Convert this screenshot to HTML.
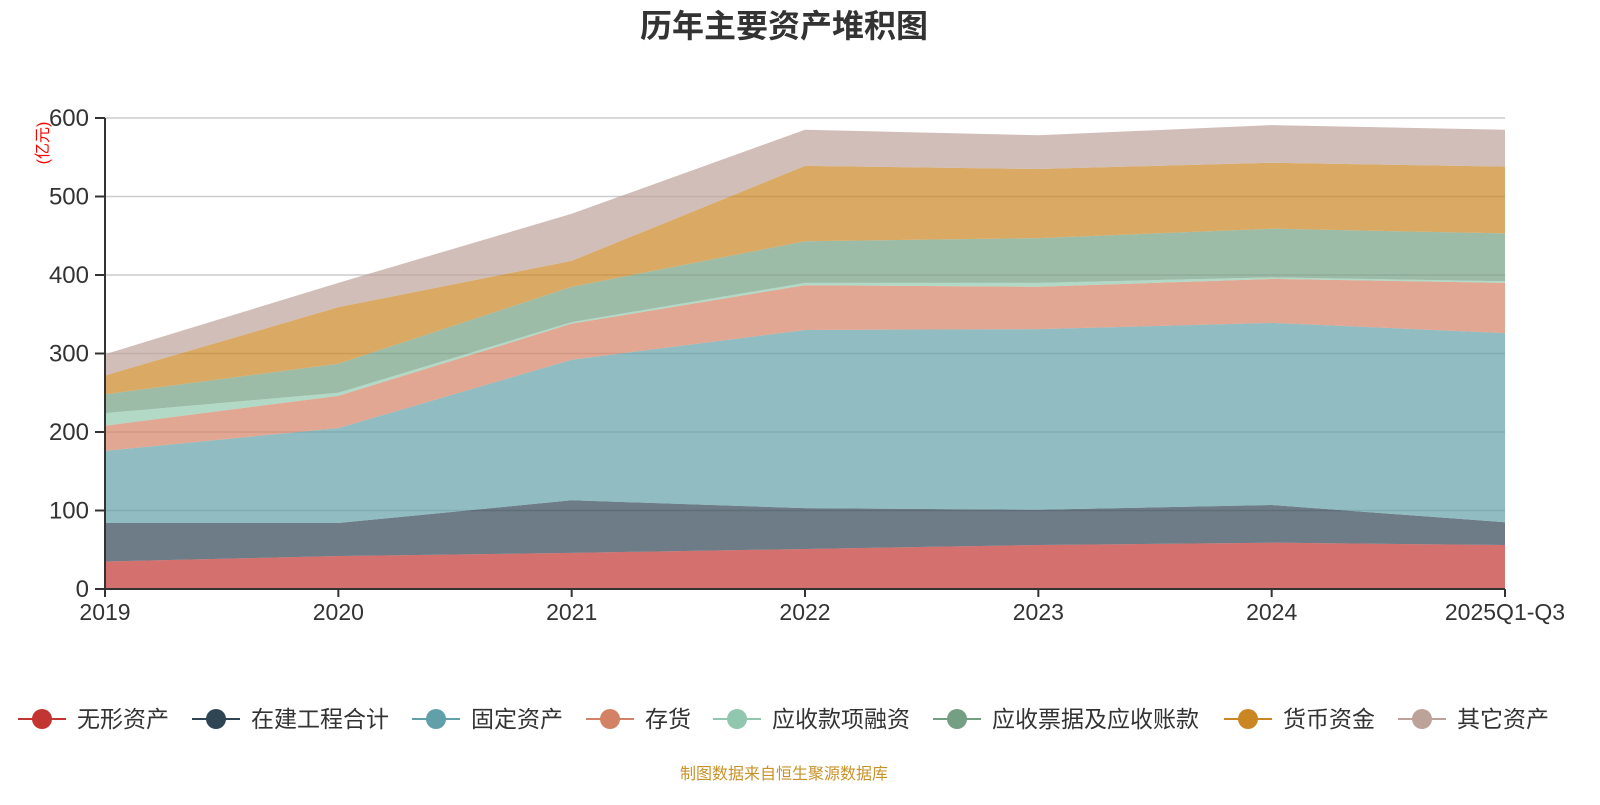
<!DOCTYPE html>
<html><head><meta charset="utf-8">
<style>
body{margin:0;background:#fff;width:1600px;height:800px;overflow:hidden;font-family:"Liberation Sans","Noto Sans CJK SC",sans-serif;}
</style></head>
<body>
<svg id="chart" width="1600" height="800" xmlns="http://www.w3.org/2000/svg">
<text x="784" y="37" text-anchor="middle" font-size="32" font-weight="bold" fill="#333" font-family="Liberation Sans, Noto Sans CJK SC, sans-serif">历年主要资产堆积图</text>
<text transform="translate(48,143) rotate(-90)" text-anchor="middle" font-size="16" fill="#ff0000" font-family="Liberation Sans, Noto Sans CJK SC, sans-serif">(亿元)</text>
<g id="grid"></g><g id="areas"></g><g id="axes"></g><g id="legend"></g>
<text x="784" y="779" text-anchor="middle" font-size="16" fill="#c8922a" font-family="Liberation Sans, Noto Sans CJK SC, sans-serif">制图数据来自恒生聚源数据库</text>
</svg>
<script>
const categories=["2019","2020","2021","2022","2023","2024","2025Q1-Q3"];
const seriesNames=["无形资产","在建工程合计","固定资产","存货","应收款项融资","应收票据及应收账款","货币资金","其它资产"];
const intangible=[35,42,46,51,56,59,56];
const construction=[49,42,67,52,45,48,29];
const fixedAssets=[92,121,179,227,230,232,241];
const inventory=[32,41,46,57,54,56,64];
const receivableFinancing=[16,4,2,3,5,2,2];
const receivables=[24,37,45,53,57,62,61];
const cash=[24,72,33,96,88,84,85];
const otherAssets=[27,31,60,46,43,48,47];
const yTicks=[0,100,200,300,400,500,600];
const seriesData=[intangible,construction,fixedAssets,inventory,receivableFinancing,receivables,cash,otherAssets];
const colors=["#c23531","#2f4554","#61a0a8","#d48265","#91c7ae","#749f83","#ca8622","#bda29a"];
const NS="http://www.w3.org/2000/svg";
const x0=105,x1=1505,yb=589,yt=118;
const xS=i=>x0+i*(x1-x0)/(categories.length-1);
const yS=v=>yb-v*(yb-yt)/600;
function mk(t,a,p){const e=document.createElementNS(NS,t);for(const k in a)e.setAttribute(k,a[k]);p.appendChild(e);return e;}
const grid=document.getElementById('grid'),areas=document.getElementById('areas'),axes=document.getElementById('axes'),legend=document.getElementById('legend');
yTicks.forEach(v=>{
 if(v>0){const l=mk('line',{x1:x0,x2:x1,y1:yS(v),y2:yS(v),stroke:'#ccc','stroke-width':1.5},grid);
 
 }
 const t=mk('text',{x:89,y:yS(v)+8,'text-anchor':'end','font-size':24,fill:'#333'},axes);t.textContent=v;
 
 
 mk('line',{x1:x0-10,x2:x0,y1:yS(v),y2:yS(v),stroke:'#333','stroke-width':2},axes);
});
let base=categories.map(()=>0);
seriesData.forEach((s,si)=>{
 const top=base.map((b,i)=>b+s[i]);
 let d='M'+top.map((v,i)=>xS(i)+','+yS(v)).join('L');
 for(let i=categories.length-1;i>=0;i--)d+='L'+xS(i)+','+yS(base[i]);
 const p=mk('path',{d:d+'Z',fill:colors[si],'fill-opacity':0.7},areas);
 
 
 base=top;
});
mk('line',{x1:x0,x2:x0,y1:yt,y2:yb,stroke:'#333','stroke-width':2},axes);
mk('line',{x1:x0,x2:x1,y1:yb,y2:yb,stroke:'#333','stroke-width':2},axes);
categories.forEach((c,i)=>{
 mk('line',{x1:xS(i),x2:xS(i),y1:yb,y2:yb+8,stroke:'#333','stroke-width':2},axes);
 const t=mk('text',{x:xS(i),y:620,'text-anchor':'middle','font-size':23,fill:'#333'},axes);t.textContent=c;
 
 
});
const lx=[18,192,412,586,713,933,1224,1398];
seriesNames.forEach((n,i)=>{
 const g=mk('g',{},legend);
 
 
 mk('line',{x1:lx[i],x2:lx[i]+48,y1:719,y2:719,stroke:colors[i],'stroke-width':2},g);
 mk('circle',{cx:lx[i]+24,cy:719,r:10,fill:colors[i]},g);
 const t=mk('text',{x:lx[i]+59,y:727,'font-size':23,fill:'#333','font-family':'Liberation Sans, Noto Sans CJK SC, sans-serif'},g);t.textContent=n;
});
</script>
</body></html>
